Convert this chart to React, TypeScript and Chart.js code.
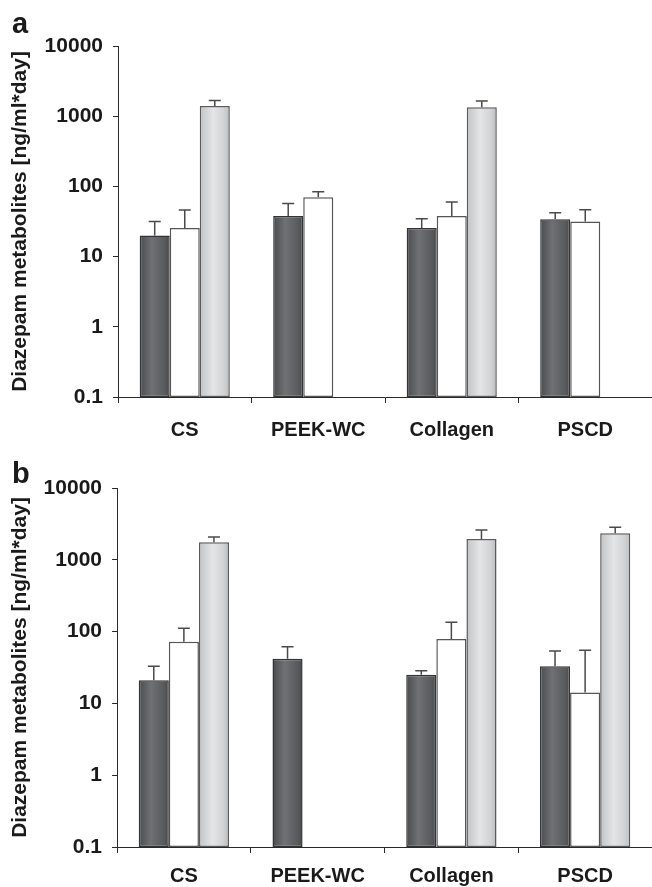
import React, { useEffect, useRef } from 'react';
import { Chart, registerables } from 'chart.js';

Chart.register(...registerables);

// ---------- data ----------
const categories = ['CS', 'PEEK-WC', 'Collagen', 'PSCD'];
const yTickValues = [0.1, 1, 10, 100, 1000, 10000];
const yTickLabels = ['0.1', '1', '10', '100', '1000', '10000'];
const yTitle = 'Diazepam metabolites [ng/ml*day]';

// Panel a
const aDark = [20, 38, 25.5, 34];
const aDarkErr = [31.5, 57, 34.5, 42];
const aWhite = [25.5, 70, 38, 31.5];
const aWhiteErr = [46, 84, 60, 46.5];
const aGray = [1400, null, 1340, null];
const aGrayErr = [1680, null, 1650, null];

// Panel b
const bDark = [21, 42, 25, 33];
const bDarkErr = [33, 61.5, 28.5, 53.5];
const bWhite = [72, null, 79, 14.2];
const bWhiteErr = [111, null, 135, 55];
const bGray = [1760, null, 1950, 2350];
const bGrayErr = [2070, null, 2610, 2850];

// ---------- styling ----------
const FONT = "'Liberation Sans', Arial, Helvetica, sans-serif";
const TEXT = '#1a1a1a';
const AXIS = '#2a2a2a';
const CAT_PCT = 0.675;

const gradStops: (string | [number, string][])[] = [
  [[0, '#4a4b4e'], [0.4, '#707175'], [0.85, '#58595c'], [1, '#47484b']],
  '#ffffff',
  [[0, '#c2c3c5'], [0.45, '#e4e5e7'], [0.8, '#d2d3d5'], [1, '#babbbd']],
];
const borderColors = ['#333333', '#555555', '#5a5a5a'];

function makeBg(dsIndex: number) {
  const spec = gradStops[dsIndex];
  return (ctx: any) => {
    if (typeof spec === 'string') return spec;
    const chart = ctx.chart;
    const xs = chart.scales && chart.scales.x;
    if (!xs || ctx.dataIndex === undefined) return spec[1][1];
    const catW = xs.width / categories.length;
    const w = (catW * CAT_PCT) / 3;
    const cx = xs.getPixelForValue(ctx.dataIndex) + (dsIndex - 1) * w;
    if (!isFinite(cx) || !isFinite(w) || w <= 0) return spec[1][1];
    const g = chart.ctx.createLinearGradient(cx - w / 2, 0, cx + w / 2, 0);
    spec.forEach(([o, c]) => g.addColorStop(o, c));
    return g;
  };
}

type PanelProps = {
  top: number;
  height: number;
  padTop: number;
  yWidth: number;
  xHeight: number;
  xLabelPad: number;
  series: (number | null)[][];
  errors: (number | null)[][];
  letter: string;
  letterTop: number;
};

function Panel(p: PanelProps) {
  const ref = useRef<HTMLCanvasElement | null>(null);
  useEffect(() => {
    if (!ref.current) return;
    const errorPlugin = {
      id: 'errorBars',
      afterDatasetsDraw(chart: any) {
        const c = chart.ctx;
        const ys = chart.scales.y;
        c.save();
        c.strokeStyle = '#4a4a4a';
        c.lineWidth = 1.5;
        p.series.forEach((_, di) => {
          const meta = chart.getDatasetMeta(di);
          meta.data.forEach((el: any, i: number) => {
            const v = p.series[di][i];
            const e = p.errors[di][i];
            if (v == null || e == null) return;
            const yTop = ys.getPixelForValue(v);
            const yE = ys.getPixelForValue(e);
            c.beginPath();
            c.moveTo(el.x, yTop);
            c.lineTo(el.x, yE);
            c.moveTo(el.x - 6, yE);
            c.lineTo(el.x + 6, yE);
            c.stroke();
          });
        });
        c.restore();
      },
    };

    const chart = new Chart(ref.current, {
      type: 'bar',
      data: {
        labels: categories,
        datasets: p.series.map((s, di) => ({
          label: 'Series ' + (di + 1),
          data: s,
          backgroundColor: makeBg(di),
          borderColor: borderColors[di],
          borderWidth: 1.5,
          borderSkipped: false,
          categoryPercentage: CAT_PCT,
          barPercentage: 1,
        })),
      },
      options: {
        responsive: false,
        animation: false,
        devicePixelRatio: 1,
        layout: { padding: { top: p.padTop, left: 0, right: 0, bottom: 0 } },
        plugins: {
          legend: { display: false },
          tooltip: { enabled: false },
          title: { display: false },
        },
        scales: {
          x: {
            type: 'category',
            grid: {
              offset: true,
              drawOnChartArea: false,
              drawTicks: true,
              tickLength: 6,
              color: AXIS,
              lineWidth: 1,
            },
            border: { display: true, color: AXIS, width: 1 },
            ticks: {
              color: TEXT,
              font: { family: FONT, size: 20, weight: 'bold' },
              padding: p.xLabelPad,
              maxRotation: 0,
              autoSkip: false,
            },
            afterFit: (s: any) => {
              s.height = p.xHeight;
            },
          },
          y: {
            type: 'logarithmic',
            min: 0.1,
            max: 10000,
            grid: {
              drawOnChartArea: false,
              drawTicks: true,
              tickLength: 5,
              color: AXIS,
              lineWidth: 1,
            },
            border: { display: true, color: AXIS, width: 1 },
            afterBuildTicks: (s: any) => {
              s.ticks = yTickValues.map((v) => ({ value: v }));
            },
            ticks: {
              color: TEXT,
              font: { family: FONT, size: 21, weight: 'bold' },
              padding: 10,
              callback: (_v: any, i: number) => yTickLabels[i],
            },
            title: {
              display: true,
              text: yTitle,
              color: TEXT,
              font: { family: FONT, size: 21, weight: 'bold' },
              padding: { top: 8, bottom: 0 },
            },
            afterFit: (s: any) => {
              s.width = p.yWidth;
            },
          },
        },
      } as any,
      plugins: [errorPlugin],
    });
    return () => chart.destroy();
  }, []);

  return (
    <>
      <canvas
        ref={ref}
        width={652}
        height={p.height}
        style={{ position: 'absolute', left: 0, top: p.top, width: 652, height: p.height }}
      />
      <div
        style={{
          position: 'absolute',
          left: 12,
          top: p.letterTop,
          fontFamily: FONT,
          fontWeight: 'bold',
          fontSize: 29,
          lineHeight: '29px',
          color: TEXT,
        }}
      >
        {p.letter}
      </div>
    </>
  );
}

export default function App() {
  return (
    <div style={{ position: 'absolute', left: 0, top: 0, width: 652, height: 887, background: '#fff' }}>
      <Panel
        top={0}
        height={440}
        padTop={46}
        yWidth={118}
        xHeight={43}
        xLabelPad={15}
        series={[aDark, aWhite, aGray]}
        errors={[aDarkErr, aWhiteErr, aGrayErr]}
        letter="a"
        letterTop={9}
      />
      <Panel
        top={440}
        height={447}
        padTop={48}
        yWidth={117}
        xHeight={40}
        xLabelPad={11}
        series={[bDark, bWhite, bGray]}
        errors={[bDarkErr, bWhiteErr, bGrayErr]}
        letter="b"
        letterTop={459}
      />
    </div>
  );
}
